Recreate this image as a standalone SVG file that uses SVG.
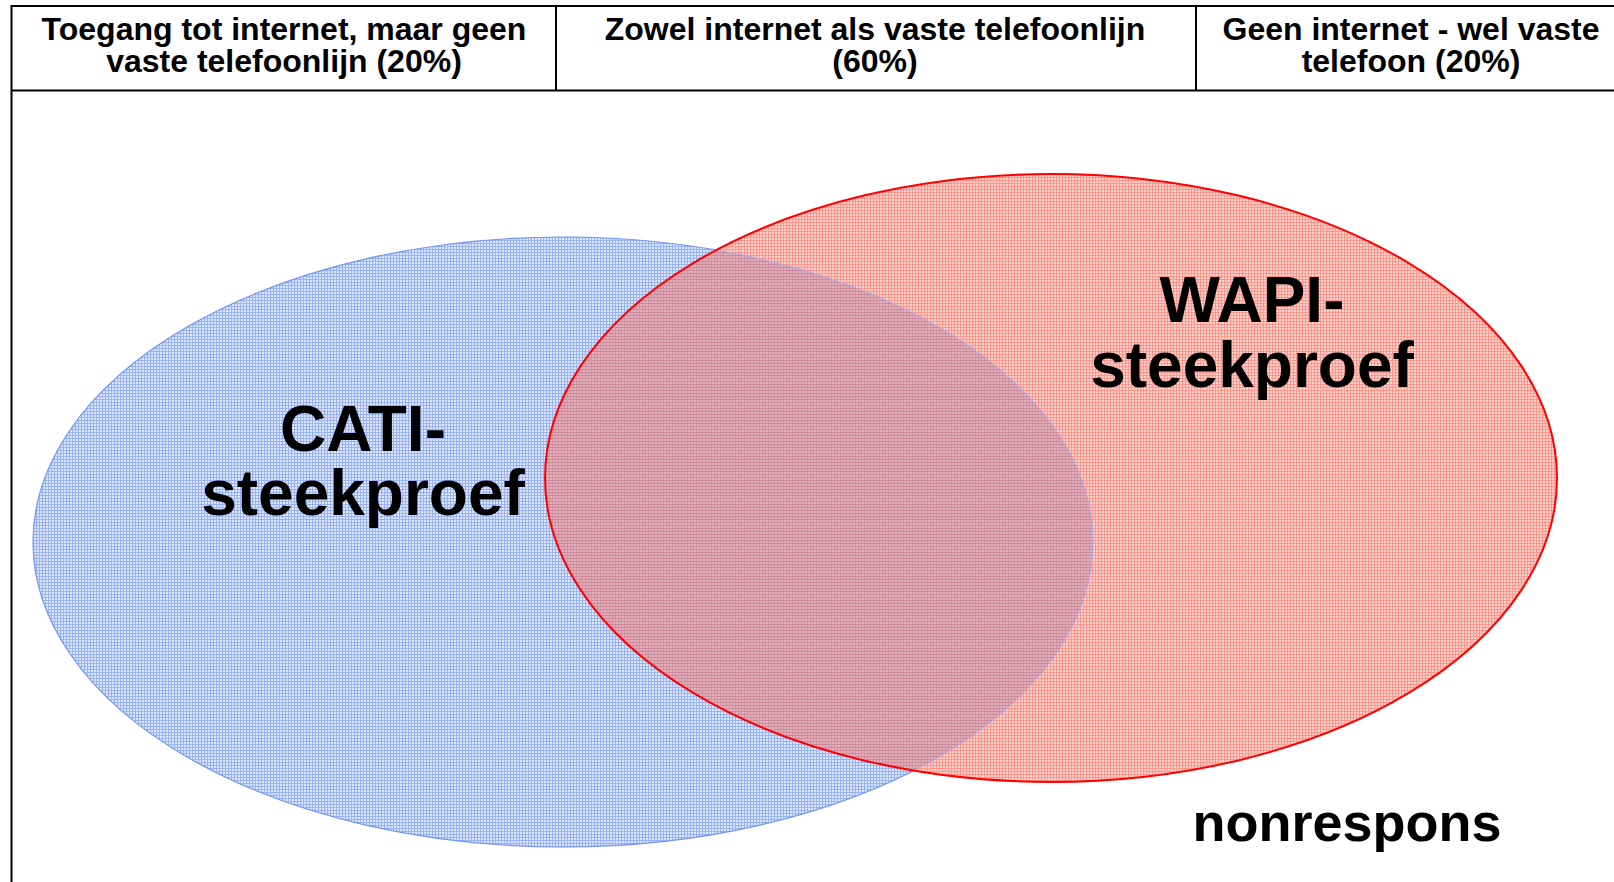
<svg xmlns="http://www.w3.org/2000/svg" width="1614" height="882" viewBox="0 0 1614 882">
  <style>
    .hdr { font-family: "Liberation Sans", Arial, sans-serif; font-weight: bold; font-size: 32px; fill: #000; text-anchor: middle; }
    .big { font-family: "Liberation Sans", Arial, sans-serif; font-weight: bold; font-size: 64px; fill: #000; text-anchor: middle; }
    .nr { font-family: "Liberation Sans", Arial, sans-serif; font-weight: bold; font-size: 54px; fill: #000; text-anchor: middle; }
    .rule { stroke: #000; stroke-width: 2; fill: none; }
  </style>
  <defs>
    <pattern id="pBlue" patternUnits="userSpaceOnUse" width="3" height="3">
      <rect width="3" height="3" fill="#dde7fd"/>
      <rect width="3" height="1" fill="#98b2f6"/>
      <rect width="1" height="3" fill="#98b2f6"/>
    </pattern>
    <pattern id="pRed" patternUnits="userSpaceOnUse" width="3" height="3">
      <rect width="3" height="3" fill="#ffd4ce"/>
      <rect width="3" height="1" fill="#ff968c"/>
      <rect width="1" height="3" fill="#ff968c"/>
    </pattern>
    <pattern id="pMix" patternUnits="userSpaceOnUse" width="3" height="3">
      <rect width="3" height="3" fill="#e4b0bc"/>
      <rect width="3" height="1" fill="#c9889a"/>
      <rect width="1" height="3" fill="#d0909f"/>
    </pattern>
    <clipPath id="clipBlue">
      <ellipse cx="563" cy="542" rx="530" ry="305"/>
    </clipPath>
    <clipPath id="clipRed">
      <ellipse cx="1051" cy="478" rx="506" ry="304"/>
    </clipPath>
  </defs>

  <rect width="1614" height="882" fill="#fff"/>

  <g id="table">
    <line class="rule" x1="11" y1="6" x2="1614" y2="6"/>
    <line class="rule" x1="11.5" y1="5" x2="11.5" y2="882"/>
    <line class="rule" x1="11" y1="90.5" x2="1614" y2="90.5"/>
    <line class="rule" x1="556" y1="6" x2="556" y2="91"/>
    <line class="rule" x1="1196" y1="6" x2="1196" y2="91"/>
    <text class="hdr"><tspan x="284" y="40">Toegang tot internet, maar geen</tspan><tspan x="284" y="72">vaste telefoonlijn (20%)</tspan></text>
    <text class="hdr"><tspan x="875" y="40">Zowel internet als vaste telefoonlijn</tspan><tspan x="875" y="72">(60%)</tspan></text>
    <text class="hdr"><tspan x="1411" y="40">Geen internet - wel vaste</tspan><tspan x="1411" y="72">telefoon (20%)</tspan></text>
  </g>

  <g id="cati">
    <ellipse cx="563" cy="542" rx="530" ry="305" fill="url(#pBlue)" stroke="#7393ef" stroke-width="1.2"/>
  </g>

  <g id="wapi">
    <ellipse cx="1051" cy="478" rx="506" ry="304" fill="url(#pRed)"/>
    <ellipse cx="1051" cy="478" rx="506" ry="304" fill="url(#pMix)" clip-path="url(#clipBlue)"/>
    <ellipse cx="563" cy="542" rx="530" ry="305" fill="none" stroke="#a8a8ee" stroke-width="1" clip-path="url(#clipRed)"/>
    <ellipse cx="1051" cy="478" rx="506" ry="304" fill="none" stroke="#ff0000" stroke-width="2"/>
  </g>

  <g id="labels">
    <text class="big"><tspan x="363" y="451">CATI-</tspan><tspan x="363" y="515">steekproef</tspan></text>
    <text class="big"><tspan x="1252" y="322">WAPI-</tspan><tspan x="1252" y="387">steekproef</tspan></text>
  </g>

  <g id="nonrespons">
    <text class="nr" x="1347" y="841">nonrespons</text>
  </g>
</svg>
